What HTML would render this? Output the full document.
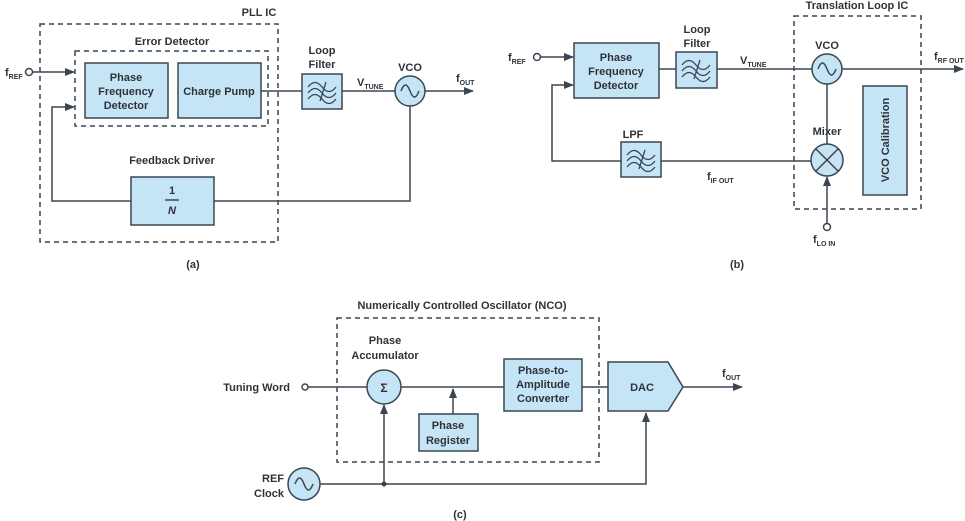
<!DOCTYPE html>
<html><head><meta charset="utf-8"><style>
html,body{margin:0;padding:0;background:#fff;}
svg{display:block;}
text{font-family:"Liberation Sans",sans-serif;font-weight:bold;font-size:11px;fill:#2e3339;}
.b{fill:#c5e4f6;stroke:#3a4652;stroke-width:1.5;}
.l{stroke:#3a4652;stroke-width:1.5;fill:none;}
.d{stroke:#3a4652;stroke-width:1.5;fill:none;stroke-dasharray:5,4;}
.s{font-size:7px;}
</style></head><body>
<svg width="965" height="521" viewBox="0 0 965 521" xmlns="http://www.w3.org/2000/svg">
<defs>
<marker id="a" markerWidth="10" markerHeight="8" refX="9" refY="4" orient="auto" markerUnits="userSpaceOnUse"><path d="M0,0 L10,4 L0,8 z" fill="#3a4652"/></marker>
<g id="flt"><path d="M6,13 q7,-9 14,0 t14,0 M6,19 q7,-9 14,0 t14,0 M6,25 q7,-9 14,0 t14,0 M24,8 L18,27" class="l" style="stroke-width:1.3"/></g>
<g id="sin"><path d="M-9,0 q4.5,-12 9,0 t9,0" class="l"/></g>
</defs>

<!-- (a) -->
<rect x="40" y="24" width="238" height="218" class="d"/>
<text x="259" y="16" text-anchor="middle">PLL IC</text>
<rect x="75" y="51" width="193" height="75" class="d"/>
<text x="172" y="45" text-anchor="middle">Error Detector</text>
<rect x="85" y="63" width="83" height="55" class="b"/>
<text x="126" y="81" text-anchor="middle">Phase</text>
<text x="126" y="95" text-anchor="middle">Frequency</text>
<text x="126" y="109" text-anchor="middle">Detector</text>
<rect x="178" y="63" width="83" height="55" class="b"/>
<text x="219" y="95" text-anchor="middle">Charge Pump</text>
<text x="5" y="76">f<tspan class="s" dy="3">REF</tspan></text>
<circle cx="29" cy="72" r="3.5" fill="#fff" class="l"/>
<line x1="33" y1="72" x2="74" y2="72" class="l" marker-end="url(#a)"/>
<polyline points="410,106 410,201 52,201 52,107 74,107" class="l" marker-end="url(#a)"/>
<rect x="131" y="177" width="83" height="48" class="b"/>
<text x="172" y="194" text-anchor="middle">1</text>
<line x1="165" y1="200" x2="179" y2="200" class="l"/>
<text x="172" y="214" text-anchor="middle" font-style="italic">N</text>
<text x="172" y="164" text-anchor="middle">Feedback Driver</text>
<line x1="261" y1="91" x2="302" y2="91" class="l"/>
<rect x="302" y="74" width="40" height="35" class="b"/>
<use href="#flt" x="302" y="74"/>
<text x="322" y="54" text-anchor="middle">Loop</text>
<text x="322" y="68" text-anchor="middle">Filter</text>
<line x1="342" y1="91" x2="395" y2="91" class="l"/>
<text x="357" y="86">V<tspan class="s" dy="3">TUNE</tspan></text>
<circle cx="410" cy="91" r="15" class="b"/>
<use href="#sin" x="410" y="91"/>
<text x="410" y="71" text-anchor="middle">VCO</text>
<line x1="425" y1="91" x2="473" y2="91" class="l" marker-end="url(#a)"/>
<text x="456" y="82">f<tspan class="s" dy="3">OUT</tspan></text>
<text x="193" y="268" text-anchor="middle">(a)</text>

<!-- (b) -->
<rect x="794" y="16" width="127" height="193" class="d"/>
<text x="857" y="9" text-anchor="middle">Translation Loop IC</text>
<text x="508" y="61">f<tspan class="s" dy="3">REF</tspan></text>
<circle cx="537" cy="57" r="3.5" fill="#fff" class="l"/>
<line x1="541" y1="57" x2="573" y2="57" class="l" marker-end="url(#a)"/>
<rect x="574" y="43" width="85" height="55" class="b"/>
<text x="616" y="61" text-anchor="middle">Phase</text>
<text x="616" y="75" text-anchor="middle">Frequency</text>
<text x="616" y="89" text-anchor="middle">Detector</text>
<line x1="659" y1="69" x2="676" y2="69" class="l"/>
<rect x="676" y="52" width="41" height="36" class="b"/>
<use href="#flt" x="676" y="52"/>
<text x="697" y="33" text-anchor="middle">Loop</text>
<text x="697" y="47" text-anchor="middle">Filter</text>
<line x1="717" y1="69" x2="812" y2="69" class="l"/>
<text x="740" y="64">V<tspan class="s" dy="3">TUNE</tspan></text>
<circle cx="827" cy="69" r="15" class="b"/>
<use href="#sin" x="827" y="69"/>
<text x="827" y="49" text-anchor="middle">VCO</text>
<line x1="842" y1="69" x2="963" y2="69" class="l" marker-end="url(#a)"/>
<text x="934" y="60">f<tspan class="s" dy="3">RF OUT</tspan></text>
<line x1="827" y1="84" x2="827" y2="144" class="l"/>
<rect x="863" y="86" width="44" height="109" class="b"/>
<text transform="translate(889,140) rotate(-90)" text-anchor="middle">VCO Calibration</text>
<text x="827" y="135" text-anchor="middle">Mixer</text>
<circle cx="827" cy="160" r="16" class="b"/>
<path d="M816,149 L838,171 M838,149 L816,171" class="l"/>
<line x1="827" y1="223" x2="827" y2="177" class="l" marker-end="url(#a)"/>
<circle cx="827" cy="227" r="3.5" fill="#fff" class="l"/>
<text x="813" y="243">f<tspan class="s" dy="3">LO IN</tspan></text>
<line x1="661" y1="161" x2="811" y2="161" class="l"/>
<rect x="621" y="142" width="40" height="35" class="b"/>
<use href="#flt" x="621" y="142"/>
<text x="633" y="138" text-anchor="middle">LPF</text>
<polyline points="621,161 552,161 552,85 573,85" class="l" marker-end="url(#a)"/>
<text x="707" y="180">f<tspan class="s" dy="3">IF OUT</tspan></text>
<text x="737" y="268" text-anchor="middle">(b)</text>

<!-- (c) -->
<rect x="337" y="318" width="262" height="144" class="d"/>
<text x="462" y="309" text-anchor="middle">Numerically Controlled Oscillator (NCO)</text>
<text x="290" y="391" text-anchor="end">Tuning Word</text>
<circle cx="305" cy="387" r="3" fill="#fff" class="l"/>
<line x1="308" y1="387" x2="367" y2="387" class="l"/>
<text x="385" y="344" text-anchor="middle">Phase</text>
<text x="385" y="359" text-anchor="middle">Accumulator</text>
<circle cx="384" cy="387" r="17" class="b"/>
<text x="384" y="392" text-anchor="middle" style="font-size:12px">Σ</text>
<line x1="401" y1="387" x2="504" y2="387" class="l"/>
<rect x="419" y="414" width="59" height="37" class="b"/>
<text x="448" y="429" text-anchor="middle">Phase</text>
<text x="448" y="444" text-anchor="middle">Register</text>
<line x1="453" y1="414" x2="453" y2="389" class="l" marker-end="url(#a)"/>
<rect x="504" y="359" width="78" height="52" class="b"/>
<text x="543" y="374" text-anchor="middle">Phase-to-</text>
<text x="543" y="388" text-anchor="middle">Amplitude</text>
<text x="543" y="402" text-anchor="middle">Converter</text>
<line x1="582" y1="387" x2="608" y2="387" class="l"/>
<polygon points="608,362 668,362 683,387 668,411 608,411" class="b"/>
<text x="642" y="391" text-anchor="middle">DAC</text>
<line x1="683" y1="387" x2="742" y2="387" class="l" marker-end="url(#a)"/>
<text x="722" y="377">f<tspan class="s" dy="3">OUT</tspan></text>
<circle cx="304" cy="484" r="16" class="b"/>
<use href="#sin" x="304" y="484"/>
<text x="284" y="482" text-anchor="end">REF</text>
<text x="284" y="497" text-anchor="end">Clock</text>
<polyline points="320,484 646,484 646,413" class="l" marker-end="url(#a)"/>
<line x1="384" y1="484" x2="384" y2="405" class="l" marker-end="url(#a)"/>
<circle cx="384" cy="484" r="2.5" fill="#3a4652"/>
<text x="460" y="518" text-anchor="middle">(c)</text>
</svg>
</body></html>
